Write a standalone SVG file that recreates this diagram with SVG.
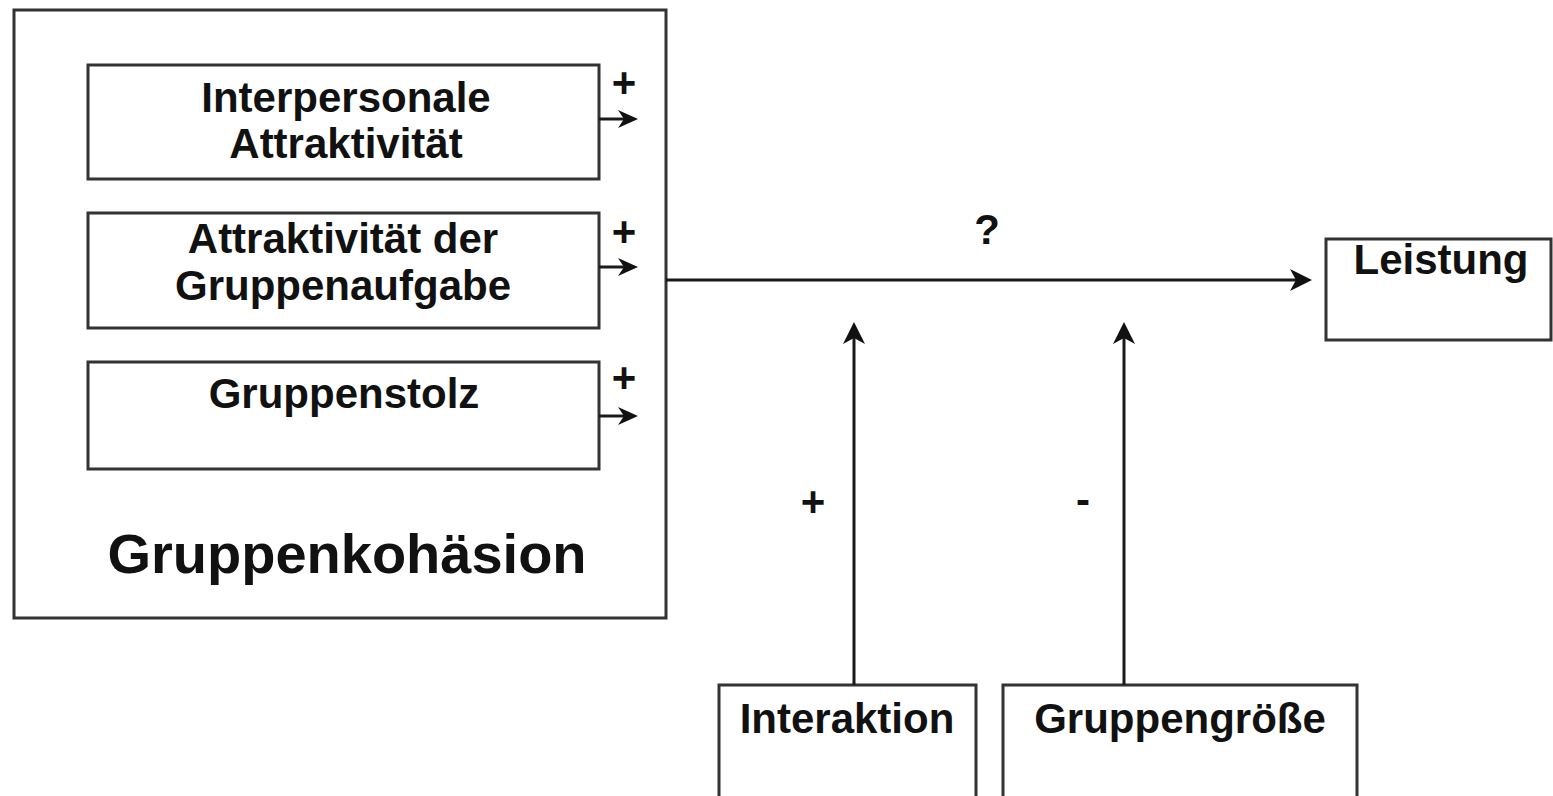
<svg xmlns="http://www.w3.org/2000/svg" width="1553" height="796" viewBox="0 0 1553 796">
  <style>
    .box { fill: #ffffff; stroke: #333333; stroke-width: 3; }
    .txt { font-family: "Liberation Sans", Arial, sans-serif; font-weight: bold; font-size: 42px; fill: #111111; text-anchor: middle; }
    .big { font-size: 56px; }
    .conn { stroke: #1a1a1a; stroke-width: 3; fill: none; }
  </style>
  <defs>
    <marker id="arrS" markerUnits="userSpaceOnUse" viewBox="0 0 20 18" markerWidth="20" markerHeight="18" refX="6" refY="9" orient="auto">
      <path d="M0,0 L20,9 L0,18 L6,9 z" fill="#111111"/>
    </marker>
    <marker id="arrL" markerUnits="userSpaceOnUse" viewBox="0 0 22 22" markerWidth="22" markerHeight="22" refX="6" refY="11" orient="auto">
      <path d="M0,0 L22,11 L0,22 L6,11 z" fill="#111111"/>
    </marker>
  </defs>
  <rect width="1553" height="796" fill="#ffffff"/>

  <g id="gruppenkohaesion">
    <rect class="box" x="14" y="10" width="652" height="608"/>
    <text class="txt big" x="347" y="573">Gruppenkohäsion</text>
  </g>

  <g id="interpersonale">
    <rect class="box" x="88" y="65" width="511" height="114"/>
    <text class="txt" x="346" y="112">Interpersonale</text>
    <text class="txt" x="346" y="158">Attraktivität</text>
  </g>

  <g id="gruppenaufgabe">
    <rect class="box" x="88" y="213" width="511" height="115"/>
    <text class="txt" x="343" y="253">Attraktivität der</text>
    <text class="txt" x="343" y="300">Gruppenaufgabe</text>
  </g>

  <g id="gruppenstolz">
    <rect class="box" x="88" y="362" width="511" height="107"/>
    <text class="txt" x="344" y="408">Gruppenstolz</text>
  </g>

  <g id="leistung">
    <rect class="box" x="1326" y="239" width="225" height="101"/>
    <text class="txt" x="1441" y="274">Leistung</text>
  </g>

  <g id="interaktion">
    <rect class="box" x="719" y="685" width="257" height="130"/>
    <text class="txt" x="847" y="733">Interaktion</text>
  </g>

  <g id="gruppengroesse">
    <rect class="box" x="1003" y="685" width="354" height="130"/>
    <text class="txt" x="1180" y="733">Gruppengröße</text>
  </g>

  <g id="connectors">
    <line class="conn" x1="599" y1="119" x2="624" y2="119" marker-end="url(#arrS)"/>
    <line class="conn" x1="599" y1="267" x2="624" y2="267" marker-end="url(#arrS)"/>
    <line class="conn" x1="599" y1="416" x2="624" y2="416" marker-end="url(#arrS)"/>
    <line class="conn" x1="666" y1="280" x2="1296" y2="280" marker-end="url(#arrL)"/>
    <line class="conn" x1="854" y1="685" x2="854" y2="338" marker-end="url(#arrL)"/>
    <line class="conn" x1="1124" y1="685" x2="1124" y2="338" marker-end="url(#arrL)"/>
  </g>

  <g id="labels">
    <text class="txt" x="624" y="97">+</text>
    <text class="txt" x="624" y="246">+</text>
    <text class="txt" x="624" y="392">+</text>
    <text class="txt" x="987" y="244">?</text>
    <text class="txt" x="813" y="516">+</text>
    <text class="txt" x="1083" y="514">-</text>
  </g>
</svg>
